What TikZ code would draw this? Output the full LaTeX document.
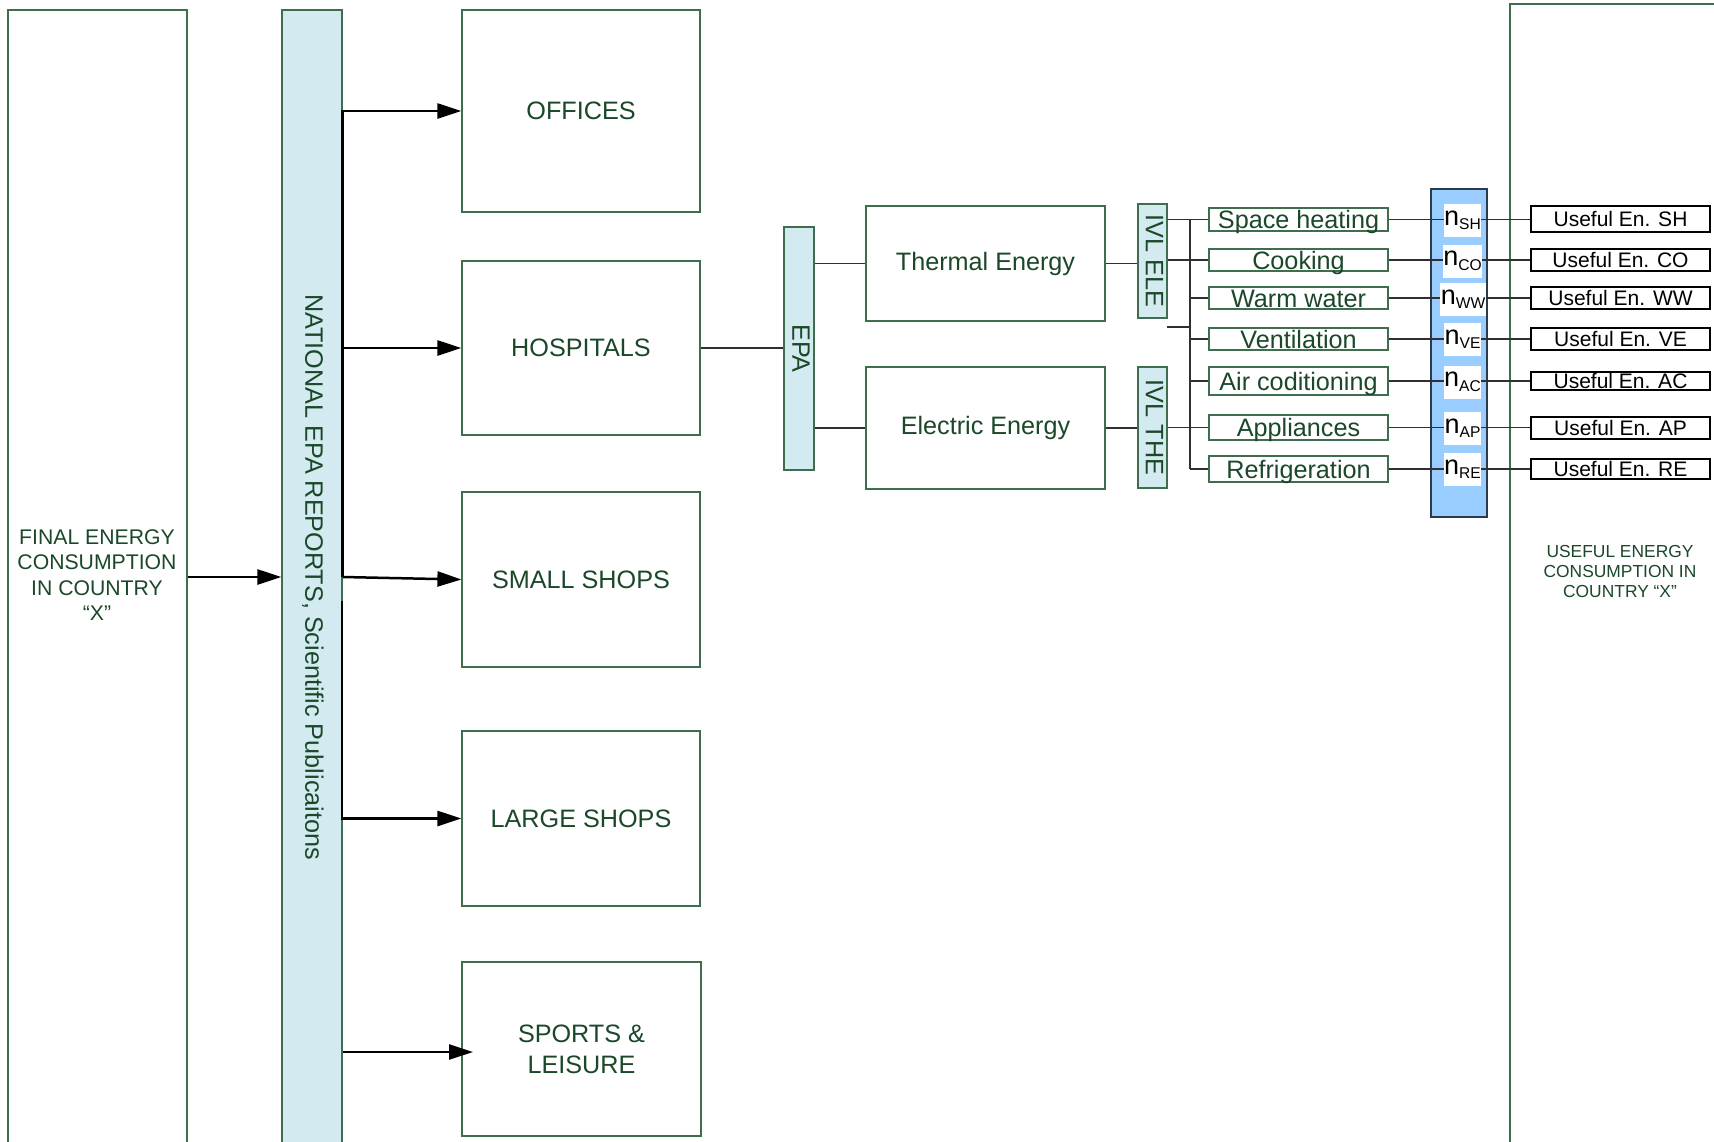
\documentclass[tikz,border=0pt]{standalone}
\usepackage{fontspec}
\setmainfont{Liberation Sans}
\usetikzlibrary{arrows.meta}
\definecolor{txtgreen}{HTML}{1A4829}
\definecolor{edgegreen}{HTML}{3E6E4E}
\definecolor{barfill}{HTML}{D2EAF0}
\definecolor{effbar}{HTML}{99CCFF}
\definecolor{effedge}{HTML}{2B3B4A}
\definecolor{wiregray}{HTML}{303030}
% efficiency symbol with its end-use subscript
\newcommand\effn[1]{{\fontsize{13.5}{14}\selectfont n}\raisebox{-2.2pt}{\fontsize{7.8}{9}\selectfont #1}}
\begin{document}
\begin{tikzpicture}[x=0.5pt,y=-0.5pt,
  edgebox/.style={draw=edgegreen,line width=0.6pt,inner sep=0pt},
  box/.style={edgebox,fill=white,text=txtgreen,align=center,font=\fontsize{12.6}{15.5}\selectfont},
  sidebar/.style={edgebox,fill=barfill},
  vlabel/.style={rotate=-90,inner sep=0pt,text=txtgreen,font=\fontsize{12.6}{15}\selectfont},
  catbox/.style={edgebox,fill=white,text=txtgreen,minimum width=89.5pt,text height=9pt,text depth=0pt,font=\fontsize{12.6}{14}\selectfont},
  ubox/.style={draw=black,line width=0.6pt,inner sep=0pt,fill=white,minimum width=89.5pt,text height=7.5pt,text depth=0pt,font=\fontsize{10.5}{12}\selectfont},
  effbox/.style={fill=white,inner sep=0pt,minimum width=18.5pt,minimum height=16.5pt},
  flow/.style={line width=1.25pt,-{Triangle[length=12pt,width=7.5pt]}},
  wire/.style={draw=wiregray,line width=0.55pt},
]
\useasboundingbox (0,0) rectangle (1714,1141);

% outer frames: final and useful energy
\node[box,minimum width=89.5pt,minimum height=568pt] (final) at (97.5,578) {};
\node[text=txtgreen,align=center,font=\fontsize{10.6}{12.75}\selectfont,inner sep=0pt] (finaltxt) at (97,575) {FINAL ENERGY\\CONSUMPTION\\IN COUNTRY\\“X”};
\node[box,minimum width=115pt,minimum height=578pt] (useful) at (1625,582) {};
\node[text=txtgreen,align=center,font=\fontsize{8.7}{10}\selectfont,inner sep=0pt] (usefultxt) at (1620,572) {USEFUL ENERGY\\CONSUMPTION IN\\COUNTRY “X”};

% data sources
\node[sidebar,minimum width=30pt,minimum height=567pt] (nat) at (312,577) {};
\node[vlabel] (nattxt) at ([xshift=0.5pt]nat.center) {NATIONAL EPA REPORTS, Scientific Publicaitons};

% building types
\node[box,minimum width=119pt,minimum height=101pt] (offices) at (581,111) {OFFICES};
\node[box,minimum width=119pt,minimum height=87pt] (hospitals) at (581,348) {HOSPITALS};
\node[box,minimum width=119pt,minimum height=87.5pt] (small) at (581,579.5) {SMALL SHOPS};
\node[box,minimum width=119pt,minimum height=87.5pt] (large) at (581,818.5) {LARGE SHOPS};
\node[box,minimum width=119.5pt,minimum height=87pt] (sports) at (581.5,1049) {SPORTS \&\\LEISURE};

% energy carriers
\node[sidebar,minimum width=15pt,minimum height=121.5pt] (epa) at (799,348.5) {};
\node[vlabel] (epatxt) at ([xshift=1pt]epa.center) {EPA};
\node[box,minimum width=119.5pt,minimum height=57.5pt] (thermal) at (985.5,263.5) {Thermal Energy};
\node[box,minimum width=119.5pt,minimum height=61pt] (electric) at (985.5,428) {Electric Energy};
\node[sidebar,minimum width=14.5pt,minimum height=57pt] (ivlele) at (1152.5,261) {};
\node[vlabel] (ivleletxt) at ([xshift=1pt]ivlele.center) {IVL ELE};
\node[sidebar,minimum width=14.5pt,minimum height=60.5pt] (ivlthe) at (1152.5,427.5) {};
\node[vlabel] (ivlthetxt) at ([xshift=1pt]ivlthe.center) {IVL THE};

% efficiency column
\node[draw=effedge,fill=effbar,line width=0.7pt,minimum width=28pt,minimum height=164pt,inner sep=0pt] (effcol) at (1459,353) {};

% useful energy per end use
\node[ubox,minimum height=13pt] (ush) at (1620.5,219) {Useful En. SH};
\node[ubox,minimum height=11pt] (uco) at (1620.5,260) {Useful En. CO};
\node[ubox,minimum height=11pt] (uww) at (1620.5,298) {Useful En. WW};
\node[ubox,minimum height=11pt] (uve) at (1620.5,339) {Useful En. VE};
\node[ubox,minimum height=9pt] (uac) at (1620.5,381) {Useful En. AC};
\node[ubox,minimum height=11pt] (uap) at (1620.5,428) {Useful En. AP};
\node[ubox,minimum height=10pt] (ure) at (1620.5,469) {Useful En. RE};

% end uses
\node[catbox,minimum height=11.5pt] (sh) at (1298.5,219.5) {Space heating};
\node[catbox,minimum height=11pt] (co) at (1298.5,260) {Cooking};
\node[catbox,minimum height=11pt] (ww) at (1298.5,298) {Warm water};
\node[catbox,minimum height=11pt] (ve) at (1298.5,339) {Ventilation};
\node[catbox,minimum height=14pt] (ac) at (1298.5,381) {Air coditioning};
\node[catbox,minimum height=12.5pt] (ap) at (1298.5,427.5) {Appliances};
\node[catbox,minimum height=13pt] (re) at (1298.5,469) {Refrigeration};

% wiring between stages
\draw[wire] (hospitals.east) -- (epa.west |- hospitals.east);
\draw[wire] (epa.east |- thermal.west) -- (thermal.west);
\draw[wire] (epa.east |- electric.west) -- (electric.west);
\draw[wire] (thermal.east) -- (ivlele.west |- thermal.east);
\draw[wire] (electric.east) -- (ivlthe.west |- electric.east);

\coordinate (bus) at (1190,0);
\coordinate (stub) at (1167,327);
\draw[wire] (bus |- sh.west) -- (bus |- re.west);
\foreach \c in {sh,co,ww,ve,ac,ap,re}
  \draw[wire] (bus |- \c.west) -- (\c.west);
\draw[wire] (ivlele.east |- sh.west) -- (bus |- sh.west);
\draw[wire] (ivlele.east |- co.west) -- (bus |- co.west);
\draw[wire] (stub) -- (bus |- stub);
\draw[wire] (ivlthe.east |- ap.west) -- (bus |- ap.west);

\draw[wire] (sh.east) -- (ush.west |- sh.east);
\draw[wire] (co.east) -- (uco.west |- co.east);
\draw[wire] (ww.east) -- (uww.west |- ww.east);
\draw[wire] (ve.east) -- (uve.west |- ve.east);
\draw[wire] (ac.east) -- (uac.west |- ac.east);
\draw[wire] (ap.east) -- (uap.west |- ap.east);
\draw[wire] (re.east) -- (ure.west |- re.east);

% efficiencies
\node[effbox] (nsh) at (1462.5,220.5) {\effn{SH}};
\node[effbox] (nco) at (1462.5,261) {\effn{CO}};
\node[effbox,minimum width=23pt] (nww) at (1463,299) {\effn{WW}};
\node[effbox] (nve) at (1462.5,339.5) {\effn{VE}};
\node[effbox] (nac) at (1462.5,382) {\effn{AC}};
\node[effbox] (nap) at (1462.5,428.5) {\effn{AP}};
\node[effbox] (nre) at (1462.5,469.5) {\effn{RE}};

% flows into the building types
\draw[flow] (final.east |- nat.center) -- (nat.west);
\draw[flow] (nat.east) -- (nat.east |- offices.west) -- (offices.west);
\draw[flow] (nat.east |- hospitals.west) -- (hospitals.west);
\draw[flow] (nat.east) -- (small.west);
\coordinate (split) at (342,601);
\draw[flow] (split) -- (split |- large.west) -- (large.west);
\coordinate (sportsin) at (473,1052);
\draw[flow] (nat.east |- sportsin) -- (sportsin);
\end{tikzpicture}
\end{document}
